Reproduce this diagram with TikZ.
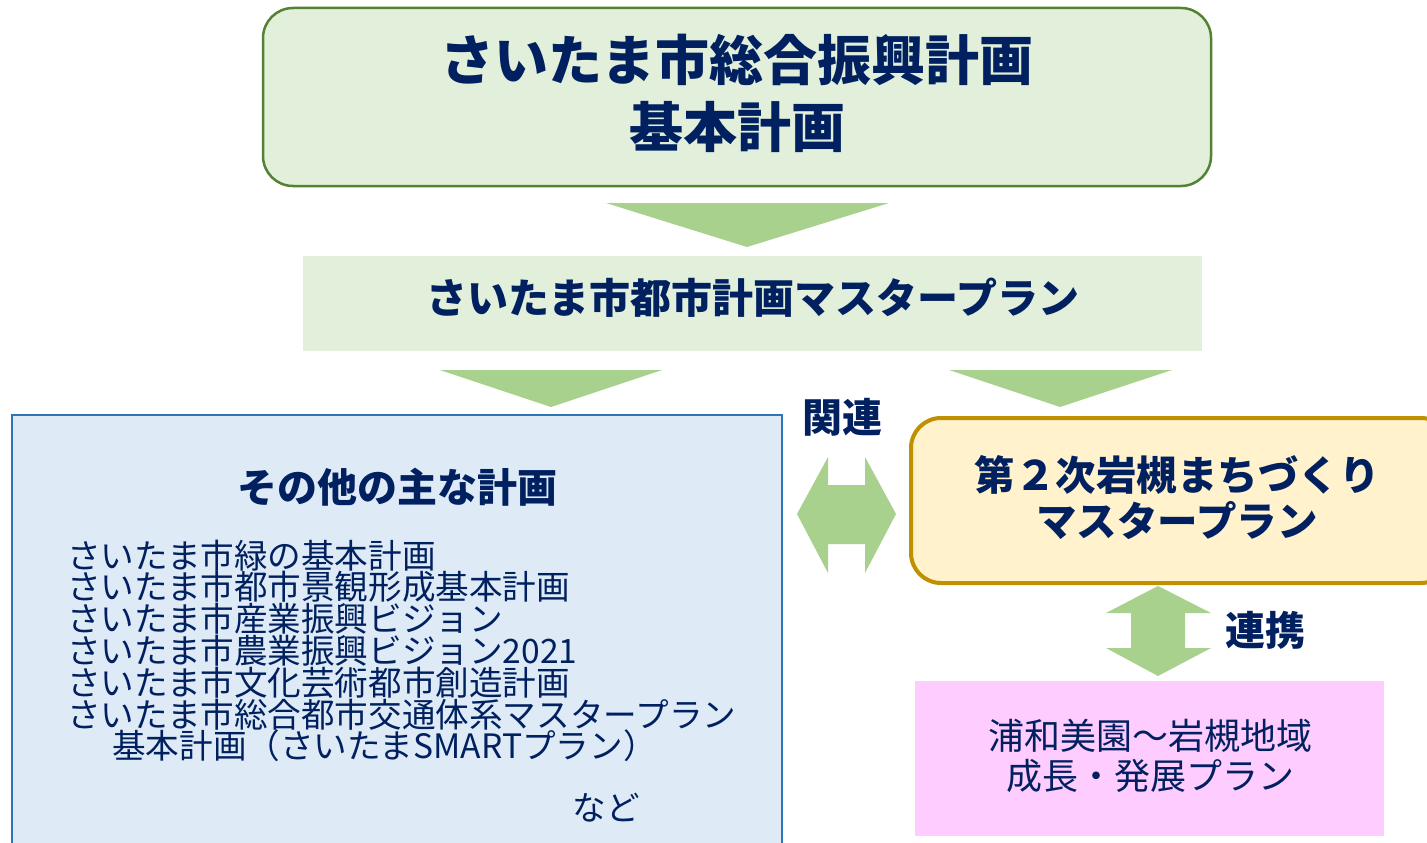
\documentclass[tikz,border=0pt]{standalone}
\usepackage{fontspec}
\setmainfont{Noto Sans CJK JP}
\definecolor{navy}{HTML}{002060}
\definecolor{lgreen}{HTML}{E2EFDA}
\definecolor{dgreen}{HTML}{548235}
\definecolor{agreen}{HTML}{A9D18E}
\definecolor{lblue}{HTML}{DEEBF7}
\definecolor{dblue}{HTML}{2E75B6}
\definecolor{lyellow}{HTML}{FFF2CC}
\definecolor{dgold}{HTML}{BF9000}
\definecolor{lpink}{HTML}{FFCCFF}
\tikzset{
  txt/.style={text=navy, inner sep=0pt, align=center},
  arrowshape/.style={fill=agreen, draw=none},
}
\begin{document}
\begin{tikzpicture}[x=1pt,y=-1pt]
\clip (0,0) rectangle (1427,843);
\fill[white] (0,0) rectangle (1427,843);
% top box
\node[draw=dgreen, line width=2.5pt, fill=lgreen, rounded corners=30pt,
      minimum width=948pt, minimum height=178pt, inner sep=0pt] (top) at (737,97) {};
\node[txt, font=\fontsize{54}{67}\selectfont\bfseries] (toptext) at (737,93) {さいたま市総合振興計画\\基本計画};
% arrow 1
\fill[arrowshape] (606,203) -- (889,203) -- (747,247) -- cycle;
% second box
\node[fill=lgreen, minimum width=899pt, minimum height=95pt, inner sep=0pt] (mp) at (752.5,303.5) {};
\node[txt, font=\fontsize{41}{44}\selectfont\bfseries] (mptext) at (753,298) {さいたま市都市計画マスタープラン};
% arrows 2, 3
\fill[arrowshape] (440,370) -- (662,370) -- (551,407) -- cycle;
\fill[arrowshape] (949,370) -- (1172,370) -- (1060,407) -- cycle;
% left box
\node[draw=dblue, line width=2.5pt, fill=lblue, minimum width=770pt, minimum height=445pt,
      inner sep=0pt] (other) at (397,637.5) {};
\node[txt, font=\fontsize{40}{44}\selectfont\bfseries] (othertitle) at (397,487) {その他の主な計画};
\node[txt, align=left, anchor=west, font=\fontsize{33.6}{31.8}\selectfont] (list) at (67,651) {%
さいたま市緑の基本計画\\
さいたま市都市景観形成基本計画\\
さいたま市産業振興ビジョン\\
さいたま市農業振興ビジョン2021\\
さいたま市文化芸術都市創造計画\\
さいたま市総合都市交通体系マスタープラン\\
\hspace*{45pt}基本計画（さいたまSMARTプラン）};
\node[txt, font=\fontsize{33.6}{36}\selectfont] (nado) at (606,808) {など};
% labels
\node[txt, font=\fontsize{40}{44}\selectfont\bfseries] (kanren) at (842,417) {関連};
\node[txt, font=\fontsize{40}{44}\selectfont\bfseries] (renkei) at (1265,630) {連携};
% horizontal double arrow
\fill[arrowshape] (797,514) -- (828,457) -- (828,485) -- (865,485) -- (865,457) -- (896,514)
  -- (865,573) -- (865,544) -- (828,544) -- (828,573) -- cycle;
% right box
\node[draw=dgold, line width=4pt, fill=lyellow, rounded corners=30pt,
      minimum width=540pt, minimum height=165pt, inner sep=0pt] (iwa) at (1181,500.5) {};
\node[txt, font=\fontsize{40.5}{46}\selectfont\bfseries] (iwatext) at (1177,498) {第２次岩槻まちづくり\\マスタープラン};
% vertical double arrow
\fill[arrowshape] (1158,586) -- (1211,613) -- (1185,613) -- (1185,648) -- (1211,648) -- (1158,676)
  -- (1106,648) -- (1131,648) -- (1131,613) -- (1106,613) -- cycle;
% pink box
\node[fill=lpink, minimum width=469pt, minimum height=155pt, inner sep=0pt] (urawa) at (1149.5,758.5) {};
\node[txt, font=\fontsize{36}{40}\selectfont] (urawatext) at (1150,756) {浦和美園～岩槻地域\\成長・発展プラン};
\end{tikzpicture}
\end{document}
